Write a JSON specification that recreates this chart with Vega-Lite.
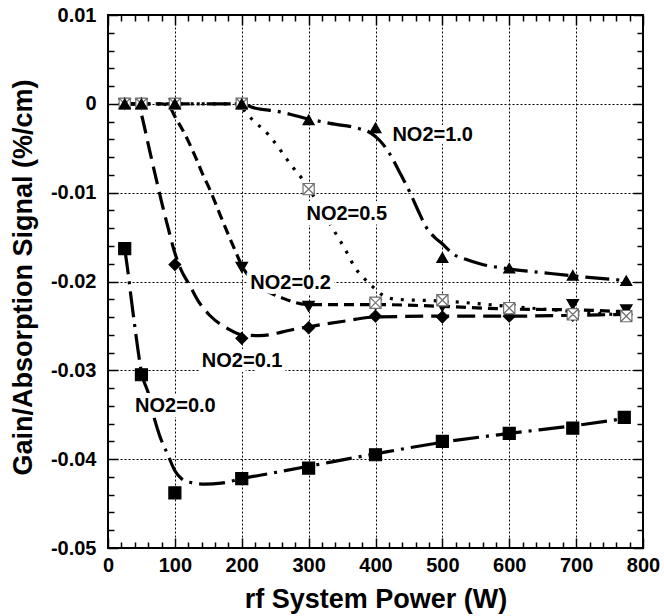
{
  "$schema": "https://vega.github.io/schema/vega-lite/v6.json",
  "width": 535,
  "height": 533,
  "autosize": {"type": "none"},
  "padding": {"left": 108, "top": 15, "right": 21, "bottom": 68},
  "background": "white",
  "config": {"view": {"stroke": "black", "strokeWidth": 2}},
  "datasets": {
    "pts": [
      {"s": "0.0", "x": 25, "y": -0.0163}, {"s": "0.0", "x": 50, "y": -0.0305}, {"s": "0.0", "x": 100, "y": -0.0438}, {"s": "0.0", "x": 200, "y": -0.0422}, {"s": "0.0", "x": 300, "y": -0.041}, {"s": "0.0", "x": 400, "y": -0.0395}, {"s": "0.0", "x": 500, "y": -0.038}, {"s": "0.0", "x": 600, "y": -0.0371}, {"s": "0.0", "x": 695, "y": -0.0365}, {"s": "0.0", "x": 772, "y": -0.0353},
      {"s": "0.1", "x": 25, "y": 0}, {"s": "0.1", "x": 50, "y": 0}, {"s": "0.1", "x": 100, "y": -0.0181}, {"s": "0.1", "x": 200, "y": -0.0264}, {"s": "0.1", "x": 300, "y": -0.0252}, {"s": "0.1", "x": 400, "y": -0.0239}, {"s": "0.1", "x": 500, "y": -0.024}, {"s": "0.1", "x": 600, "y": -0.0239}, {"s": "0.1", "x": 695, "y": -0.0238}, {"s": "0.1", "x": 775, "y": -0.0237},
      {"s": "0.2", "x": 25, "y": 0}, {"s": "0.2", "x": 50, "y": 0}, {"s": "0.2", "x": 100, "y": 0}, {"s": "0.2", "x": 200, "y": -0.0184}, {"s": "0.2", "x": 300, "y": -0.0228}, {"s": "0.2", "x": 400, "y": -0.0226}, {"s": "0.2", "x": 500, "y": -0.0228}, {"s": "0.2", "x": 600, "y": -0.0232}, {"s": "0.2", "x": 695, "y": -0.0226}, {"s": "0.2", "x": 775, "y": -0.0232},
      {"s": "0.5", "x": 25, "y": 0}, {"s": "0.5", "x": 50, "y": 0}, {"s": "0.5", "x": 100, "y": 0}, {"s": "0.5", "x": 200, "y": 0}, {"s": "0.5", "x": 300, "y": -0.0096}, {"s": "0.5", "x": 400, "y": -0.0224}, {"s": "0.5", "x": 500, "y": -0.0221}, {"s": "0.5", "x": 600, "y": -0.023}, {"s": "0.5", "x": 695, "y": -0.0237}, {"s": "0.5", "x": 775, "y": -0.0239},
      {"s": "1.0", "x": 25, "y": 0}, {"s": "1.0", "x": 50, "y": 0}, {"s": "1.0", "x": 100, "y": 0}, {"s": "1.0", "x": 200, "y": 0}, {"s": "1.0", "x": 300, "y": -0.0018}, {"s": "1.0", "x": 400, "y": -0.0027}, {"s": "1.0", "x": 500, "y": -0.0173}, {"s": "1.0", "x": 600, "y": -0.0185}, {"s": "1.0", "x": 695, "y": -0.0193}, {"s": "1.0", "x": 775, "y": -0.0199}
    ],
    "curves": [
      {"s": "0.0", "x": 25, "y": -0.0163}, {"s": "0.0", "x": 30, "y": -0.019}, {"s": "0.0", "x": 35, "y": -0.0221}, {"s": "0.0", "x": 40, "y": -0.025}, {"s": "0.0", "x": 45, "y": -0.0278}, {"s": "0.0", "x": 50, "y": -0.0302}, {"s": "0.0", "x": 60, "y": -0.0325}, {"s": "0.0", "x": 70, "y": -0.0356}, {"s": "0.0", "x": 77, "y": -0.0373}, {"s": "0.0", "x": 90, "y": -0.0396}, {"s": "0.0", "x": 100, "y": -0.0413}, {"s": "0.0", "x": 110, "y": -0.0422}, {"s": "0.0", "x": 122, "y": -0.0426}, {"s": "0.0", "x": 145, "y": -0.0428}, {"s": "0.0", "x": 169, "y": -0.0427}, {"s": "0.0", "x": 200, "y": -0.0422}, {"s": "0.0", "x": 250, "y": -0.0415}, {"s": "0.0", "x": 300, "y": -0.0408}, {"s": "0.0", "x": 400, "y": -0.0394}, {"s": "0.0", "x": 500, "y": -0.0381}, {"s": "0.0", "x": 600, "y": -0.0371}, {"s": "0.0", "x": 700, "y": -0.0362}, {"s": "0.0", "x": 775, "y": -0.0354},
      {"s": "0.1", "x": 25, "y": 0}, {"s": "0.1", "x": 45, "y": 0}, {"s": "0.1", "x": 50, "y": -0.0012}, {"s": "0.1", "x": 60, "y": -0.0045}, {"s": "0.1", "x": 70, "y": -0.0078}, {"s": "0.1", "x": 80, "y": -0.011}, {"s": "0.1", "x": 90, "y": -0.014}, {"s": "0.1", "x": 100, "y": -0.0168}, {"s": "0.1", "x": 110, "y": -0.0188}, {"s": "0.1", "x": 122, "y": -0.0204}, {"s": "0.1", "x": 135, "y": -0.0222}, {"s": "0.1", "x": 152, "y": -0.0238}, {"s": "0.1", "x": 179, "y": -0.0253}, {"s": "0.1", "x": 200, "y": -0.026}, {"s": "0.1", "x": 227, "y": -0.0261}, {"s": "0.1", "x": 277, "y": -0.0254}, {"s": "0.1", "x": 300, "y": -0.0251}, {"s": "0.1", "x": 350, "y": -0.0245}, {"s": "0.1", "x": 400, "y": -0.024}, {"s": "0.1", "x": 500, "y": -0.0239}, {"s": "0.1", "x": 600, "y": -0.0239}, {"s": "0.1", "x": 700, "y": -0.0238}, {"s": "0.1", "x": 775, "y": -0.0237},
      {"s": "0.2", "x": 25, "y": 0}, {"s": "0.2", "x": 80, "y": 0}, {"s": "0.2", "x": 90, "y": -0.0002}, {"s": "0.2", "x": 102, "y": -0.0017}, {"s": "0.2", "x": 112, "y": -0.003}, {"s": "0.2", "x": 122, "y": -0.0045}, {"s": "0.2", "x": 132, "y": -0.0062}, {"s": "0.2", "x": 142, "y": -0.008}, {"s": "0.2", "x": 152, "y": -0.0096}, {"s": "0.2", "x": 165, "y": -0.012}, {"s": "0.2", "x": 177, "y": -0.0142}, {"s": "0.2", "x": 190, "y": -0.0165}, {"s": "0.2", "x": 200, "y": -0.0182}, {"s": "0.2", "x": 215, "y": -0.0198}, {"s": "0.2", "x": 230, "y": -0.0207}, {"s": "0.2", "x": 262, "y": -0.0219}, {"s": "0.2", "x": 300, "y": -0.0226}, {"s": "0.2", "x": 400, "y": -0.0226}, {"s": "0.2", "x": 500, "y": -0.0228}, {"s": "0.2", "x": 600, "y": -0.0231}, {"s": "0.2", "x": 700, "y": -0.0232}, {"s": "0.2", "x": 775, "y": -0.0234},
      {"s": "0.5", "x": 25, "y": 0}, {"s": "0.5", "x": 195, "y": 0}, {"s": "0.5", "x": 207, "y": -0.0011}, {"s": "0.5", "x": 222, "y": -0.0022}, {"s": "0.5", "x": 239, "y": -0.0034}, {"s": "0.5", "x": 254, "y": -0.0048}, {"s": "0.5", "x": 267, "y": -0.0062}, {"s": "0.5", "x": 279, "y": -0.0074}, {"s": "0.5", "x": 292, "y": -0.0086}, {"s": "0.5", "x": 300, "y": -0.0095}, {"s": "0.5", "x": 314, "y": -0.0112}, {"s": "0.5", "x": 330, "y": -0.0133}, {"s": "0.5", "x": 347, "y": -0.0154}, {"s": "0.5", "x": 357, "y": -0.0167}, {"s": "0.5", "x": 369, "y": -0.0184}, {"s": "0.5", "x": 381, "y": -0.0195}, {"s": "0.5", "x": 396, "y": -0.0206}, {"s": "0.5", "x": 410, "y": -0.0215}, {"s": "0.5", "x": 430, "y": -0.022}, {"s": "0.5", "x": 500, "y": -0.0222}, {"s": "0.5", "x": 600, "y": -0.0228}, {"s": "0.5", "x": 700, "y": -0.0234}, {"s": "0.5", "x": 775, "y": -0.0238},
      {"s": "1.0", "x": 25, "y": 0}, {"s": "1.0", "x": 200, "y": 0}, {"s": "1.0", "x": 216, "y": -0.0004}, {"s": "1.0", "x": 257, "y": -0.0009}, {"s": "1.0", "x": 300, "y": -0.0017}, {"s": "1.0", "x": 332, "y": -0.0022}, {"s": "1.0", "x": 376, "y": -0.0028}, {"s": "1.0", "x": 391, "y": -0.0032}, {"s": "1.0", "x": 406, "y": -0.0041}, {"s": "1.0", "x": 421, "y": -0.0056}, {"s": "1.0", "x": 436, "y": -0.0077}, {"s": "1.0", "x": 451, "y": -0.0099}, {"s": "1.0", "x": 463, "y": -0.0119}, {"s": "1.0", "x": 476, "y": -0.0139}, {"s": "1.0", "x": 488, "y": -0.015}, {"s": "1.0", "x": 499, "y": -0.0157}, {"s": "1.0", "x": 516, "y": -0.0169}, {"s": "1.0", "x": 535, "y": -0.0175}, {"s": "1.0", "x": 556, "y": -0.018}, {"s": "1.0", "x": 601, "y": -0.0186}, {"s": "1.0", "x": 650, "y": -0.019}, {"s": "1.0", "x": 700, "y": -0.0194}, {"s": "1.0", "x": 775, "y": -0.0199}
    ],
    "labels": [
      {"t": "NO2=1.0", "x": 485.5, "y": -0.00355},
      {"t": "NO2=0.5", "x": 357, "y": -0.01244},
      {"t": "NO2=0.2", "x": 273, "y": -0.02016},
      {"t": "NO2=0.1", "x": 200.6, "y": -0.0289},
      {"t": "NO2=0.0", "x": 100.8, "y": -0.034}
    ]
  },
  "resolve": {"axis": {"x": "independent", "y": "independent"}},
  "layer": [
    {
      "data": {"name": "curves"},
      "mark": {"type": "line", "interpolate": "monotone", "strokeWidth": 3.2, "color": "black"},
      "encoding": {
        "x": {
          "field": "x", "type": "quantitative",
          "scale": {"domain": [0, 800], "nice": false, "zero": false},
          "axis": {
            "orient": "bottom",
            "values": [0, 20, 40, 60, 80, 100, 120, 140, 160, 180, 200, 220, 240, 260, 280, 300, 320, 340, 360, 380, 400, 420, 440, 460, 480, 500, 520, 540, 560, 580, 600, 620, 640, 660, 680, 700, 720, 740, 760, 780, 800],
            "labelExpr": "datum.value % 100 === 0 ? datum.label : ''",
            "labelFont": "Liberation Sans", "labelFontSize": 20, "labelFontWeight": "bold", "labelColor": "black",
            "labelFlush": false, "labelOverlap": false, "labelBaseline": "alphabetic", "labelPadding": 33.7,
            "tickSize": {"expr": "datum.value % 100 === 0 ? -10 : -6"},
            "tickColor": "black", "tickWidth": 1.5,
            "grid": true, "gridColor": "black", "gridDash": [2, 2], "gridWidth": 1,
            "gridOpacity": {"condition": {"test": "datum.value % 100 === 0", "value": 1}, "value": 0},
            "domain": false,
            "title": "rf System Power (W)", "titleFont": "Liberation Sans", "titleFontSize": 27, "titleFontWeight": "bold", "titleColor": "black",
            "titleY": 59, "titleBaseline": "alphabetic"
          }
        },
        "y": {
          "field": "y", "type": "quantitative",
          "scale": {"domain": [-0.05, 0.01], "nice": false, "zero": false},
          "axis": {
            "orient": "left",
            "values": [-0.05, -0.048, -0.046, -0.044, -0.042, -0.04, -0.038, -0.036, -0.034, -0.032, -0.03, -0.028, -0.026, -0.024, -0.022, -0.02, -0.018, -0.016, -0.014, -0.012, -0.01, -0.008, -0.006, -0.004, -0.002, 0, 0.002, 0.004, 0.006, 0.008, 0.01],
            "labelExpr": "abs(datum.value*100 - round(datum.value*100)) < 0.001 ? replace(format(datum.value, '.2~f'), '\u2212', '-') : ''",
            "labelFont": "Liberation Sans", "labelFontSize": 20, "labelFontWeight": "bold", "labelColor": "black",
            "labelFlush": false, "labelOverlap": false, "labelBaseline": "middle", "labelAlign": "right", "labelPadding": 22,
            "tickSize": {"expr": "abs(datum.value*100 - round(datum.value*100)) < 0.001 ? -10 : -6"},
            "tickColor": "black", "tickWidth": 1.5,
            "grid": true, "gridColor": "black", "gridDash": [2, 2], "gridWidth": 1,
            "gridOpacity": {"condition": {"test": "abs(datum.value*100 - round(datum.value*100)) < 0.001", "value": 1}, "value": 0},
            "domain": false,
            "title": "Gain/Absorption Signal (%/cm)", "titleFont": "Liberation Sans", "titleFontSize": 27, "titleFontWeight": "bold", "titleColor": "black",
            "titleAngle": -90, "titleX": -77, "titleY": 262, "titleAlign": "center", "titleBaseline": "alphabetic"
          }
        },
        "strokeDash": {
          "field": "s", "type": "nominal",
          "scale": {"domain": ["0.0", "0.1", "0.2", "0.5", "1.0"], "range": [[26, 7, 3, 7], [18, 8], [10, 6], [3, 8], [24, 7, 3, 7]]},
          "legend": null
        }
      }
    },
    {
      "data": {"name": "pts"},
      "mark": {"type": "point", "opacity": 0},
      "encoding": {
        "x": {
          "field": "x", "type": "quantitative",
          "scale": {"domain": [0, 800], "nice": false, "zero": false},
          "axis": {
            "orient": "top",
            "values": [0, 20, 40, 60, 80, 100, 120, 140, 160, 180, 200, 220, 240, 260, 280, 300, 320, 340, 360, 380, 400, 420, 440, 460, 480, 500, 520, 540, 560, 580, 600, 620, 640, 660, 680, 700, 720, 740, 760, 780, 800],
            "labels": false, "grid": false, "domain": false, "title": null,
            "tickSize": {"expr": "datum.value % 100 === 0 ? -10 : -6"},
            "tickColor": "black", "tickWidth": 1.5
          }
        },
        "y": {
          "field": "y", "type": "quantitative",
          "scale": {"domain": [-0.05, 0.01], "nice": false, "zero": false},
          "axis": {
            "orient": "right",
            "values": [-0.05, -0.048, -0.046, -0.044, -0.042, -0.04, -0.038, -0.036, -0.034, -0.032, -0.03, -0.028, -0.026, -0.024, -0.022, -0.02, -0.018, -0.016, -0.014, -0.012, -0.01, -0.008, -0.006, -0.004, -0.002, 0, 0.002, 0.004, 0.006, 0.008, 0.01],
            "labels": false, "grid": false, "domain": false, "title": null,
            "tickSize": {"expr": "abs(datum.value*100 - round(datum.value*100)) < 0.001 ? -10 : -6"},
            "tickColor": "black", "tickWidth": 1.5
          }
        }
      }
    },
    {
      "data": {"name": "labels"},
      "mark": {"type": "text", "font": "Liberation Sans", "fontSize": 20, "fontWeight": "bold", "align": "center", "baseline": "middle", "fill": "white", "stroke": "white", "strokeWidth": 10, "strokeJoin": "round"},
      "encoding": {
        "x": {"field": "x", "type": "quantitative", "axis": null},
        "y": {"field": "y", "type": "quantitative", "axis": null},
        "text": {"field": "t"}
      }
    },
    {
      "data": {"name": "labels"},
      "mark": {"type": "text", "font": "Liberation Sans", "fontSize": 20, "fontWeight": "bold", "align": "center", "baseline": "middle", "fill": "black"},
      "encoding": {
        "x": {"field": "x", "type": "quantitative", "axis": null},
        "y": {"field": "y", "type": "quantitative", "axis": null},
        "text": {"field": "t"}
      }
    },
    {
      "data": {"name": "pts"},
      "mark": {"type": "point", "opacity": 1, "strokeWidth": 1.2},
      "encoding": {
        "x": {"field": "x", "type": "quantitative", "axis": null},
        "y": {"field": "y", "type": "quantitative", "axis": null},
        "shape": {
          "field": "s", "type": "nominal",
          "scale": {"domain": ["0.0", "0.1", "0.2", "0.5", "1.0"], "range": ["square", "diamond", "triangle-down", "M-1,-1L1,-1L1,1L-1,1Z M-1,-1L1,1 M1,-1L-1,1", "triangle-up"]},
          "legend": null
        },
        "fill": {
          "field": "s", "type": "nominal",
          "scale": {"domain": ["0.0", "0.1", "0.2", "0.5", "1.0"], "range": ["black", "black", "black", "white", "black"]},
          "legend": null
        },
        "stroke": {
          "field": "s", "type": "nominal",
          "scale": {"domain": ["0.0", "0.1", "0.2", "0.5", "1.0"], "range": ["black", "black", "black", "#707070", "black"]},
          "legend": null
        },
        "size": {
          "field": "s", "type": "ordinal",
          "scale": {"domain": ["0.0", "0.1", "0.2", "0.5", "1.0"], "range": [144, 121, 170, 144, 177]},
          "legend": null
        }
      }
    }
  ]
}
